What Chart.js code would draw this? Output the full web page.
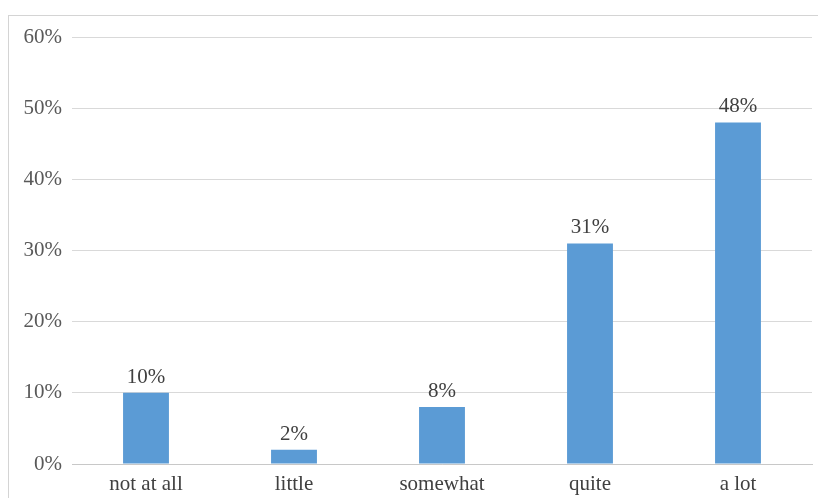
<!DOCTYPE html>
<html>
<head>
<meta charset="utf-8">
<script src="https://cdn.jsdelivr.net/npm/chart.js@4.4.1/dist/chart.umd.min.js"></script>
<style>
  html, body { margin: 0; padding: 0; background: #fff; overflow: hidden; }
  #wrap { position: relative; width: 818px; height: 498px; }
  #frame { position: absolute; left: 8px; top: 15px; width: 830px; height: 500px;
           border: 1px solid #d4d4d4; box-sizing: border-box; }
  canvas { position: absolute; left: 0; top: 0; }
</style>
</head>
<body>
<div id="wrap">
  <div id="frame"></div>
  <canvas id="chart" width="818" height="498"></canvas>
</div>
<script>
const categories = ["not at all", "little", "somewhat", "quite", "a lot"];
const shares = [10, 2, 8, 31, 48];
const yTicks = [0, 10, 20, 30, 40, 50, 60];

const FONT = "'Liberation Serif', 'Times New Roman', serif";

// draws the % labels over each bar
const barLabels = {
  id: "barLabels",
  afterDatasetsDraw(chart) {
    const c = chart.ctx;
    const meta = chart.getDatasetMeta(0);
    c.save();
    c.font = "21px " + FONT;
    c.fillStyle = "#404040";
    c.textAlign = "center";
    c.textBaseline = "alphabetic";
    meta.data.forEach((bar, i) => {
      c.fillText(shares[i] + "%", bar.x, bar.y - 10);
    });
    c.restore();
  }
};

new Chart(document.getElementById("chart"), {
  type: "bar",
  data: {
    labels: categories,
    datasets: [{
      data: shares,
      backgroundColor: "#5b9bd5",
      barPercentage: 0.31,
      categoryPercentage: 1.0,
    }]
  },
  options: {
    responsive: false,
    animation: false,
    layout: { padding: { left: 0, right: 6, top: 37, bottom: 0 } },
    plugins: { legend: { display: false }, tooltip: { enabled: false } },
    scales: {
      y: {
        min: 0,
        max: 60,
        afterFit: (s) => { s.width = 72; },
        afterBuildTicks: (s) => { s.ticks = yTicks.map(v => ({ value: v })); },
        grid: { color: "#d9d9d9", drawTicks: false },
        border: { display: false },
        ticks: {
          padding: 10,
          color: "#595959",
          font: { family: FONT, size: 21 },
          callback: (v) => v + "%",
        },
      },
      x: {
        afterFit: (s) => { s.height = 34; },
        grid: { display: false, drawTicks: false },
        border: { display: true, color: "#c8c8c8", width: 1 },
        ticks: {
          padding: 8,
          color: "#404040",
          font: { family: FONT, size: 21 },
        },
      }
    }
  },
  plugins: [barLabels]
});
</script>
</body>
</html>
